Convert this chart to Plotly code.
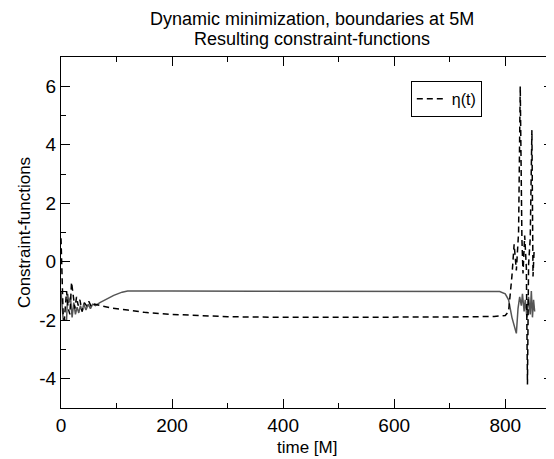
import plotly.graph_objects as go

# eta(t), dashed black
eta_t = [0, 2, 4, 6, 8, 10, 13, 16, 19, 22, 25, 28, 31, 34, 38, 42, 46, 50, 55, 60,
         70, 90, 120, 150, 200, 250, 300, 400, 500, 600, 700, 780, 800, 806, 812,
         816, 820, 824, 827, 830, 832, 835, 838, 840, 842, 845, 848, 850, 852]
eta_v = [0.8, -0.5, -1.9, -2.0, -1.4, -1.0, -1.6, -1.8, -0.7, -1.1, -1.6, -1.2, -1.5, -1.3, -1.7, -1.4, -1.5, -1.35, -1.55, -1.45,
         -1.5, -1.58, -1.65, -1.73, -1.8, -1.85, -1.88, -1.9, -1.9, -1.9, -1.89, -1.87, -1.84, -1.7, -0.5,
         0.6, -0.3, 1.0, 6.0, 0.8, -0.4, 0.9, -0.2, -4.2, -0.1, 0.8, 4.5, -0.5, 0.4]

# second constraint function, solid grey
sol_t = [0, 2, 4, 7, 10, 12, 14, 17, 20, 23, 26, 29, 32, 35, 38, 41, 45, 49, 53, 57,
         62, 70, 80, 95, 110, 120, 200, 400, 600, 780, 790, 800, 806, 812, 817, 820,
         823, 826, 829, 831, 834, 836, 839, 842, 845, 847, 849, 851, 853]
sol_v = [-1.0, -1.7, -2.0, -2.0, -2.0, -1.1, -1.4, -1.2, -1.9, -1.4, -1.8, -1.55, -1.75, -1.5, -1.7, -1.45, -1.65, -1.45, -1.6, -1.45,
         -1.5, -1.4, -1.3, -1.15, -1.04, -1.0, -1.0, -1.0, -1.0, -1.0, -1.02, -1.1, -1.3, -1.9, -2.3, -2.45,
         -1.6, -1.2, -1.5, -1.1, -1.7, -1.3, -1.9, -1.2, -1.8, -1.0, -1.9, -1.3, -1.7]

x_ticks = [0, 200, 400, 600, 800]
y_ticks = [-4, -2, 0, 2, 4, 6]
y_tick_text = [str(v) for v in y_ticks]  # plain hyphen minus, as in the original

fig = go.Figure()
fig.add_trace(go.Scatter(x=sol_t, y=sol_v, mode='lines', showlegend=False,
                         line=dict(color='#555555', width=1.5)))
fig.add_trace(go.Scatter(x=eta_t, y=eta_v, mode='lines', name='\u03b7(t)',
                         line=dict(color='black', width=1.5, dash='6px,4px')))

axis_common = dict(showline=True, linecolor='black', linewidth=1.2, mirror='allticks',
                   ticks='inside', ticklen=9, tickcolor='black', showgrid=False,
                   zeroline=False, automargin=False,
                   tickfont=dict(size=19, color='black'))

# page body has an 8px margin, so the figure is shrunk by 8px to fit the window
fig.update_layout(
    width=546, height=451,
    margin=dict(l=53, r=1, t=49, b=51),
    paper_bgcolor='white', plot_bgcolor='white',
    font=dict(family='Liberation Sans, Arial, sans-serif', color='black'),
    xaxis=dict(range=[0, 886], tickvals=x_ticks,
               minor=dict(dtick=100, ticks='inside', ticklen=5, tickcolor='black'),
               **axis_common),
    yaxis=dict(range=[-5, 7], tickvals=y_ticks, ticktext=y_tick_text,
               minor=dict(dtick=1, ticks='inside', ticklen=5, tickcolor='black'),
               title=dict(text='Constraint-functions', font=dict(size=17), standoff=4),
               **axis_common),
    legend=dict(x=0.711, y=0.932, xanchor='left', yanchor='top',
                bgcolor='white', bordercolor='black', borderwidth=1,
                font=dict(size=16), itemwidth=30,
                tracegroupgap=0),
    annotations=[
        dict(text='Dynamic minimization, boundaries at 5M',
             xref='paper', yref='paper', x=0.51, y=1, xanchor='center',
             yanchor='middle', yshift=38, showarrow=False, font=dict(size=18)),
        dict(text='Resulting constraint-functions',
             xref='paper', yref='paper', x=0.51, y=1, xanchor='center',
             yanchor='middle', yshift=18, showarrow=False, font=dict(size=18)),
        dict(text='time [M]',
             xref='paper', yref='paper', x=0.5, y=0, xanchor='center',
             yanchor='middle', yshift=-39, showarrow=False, font=dict(size=17)),
    ],
)

fig.write_html("out.html")
